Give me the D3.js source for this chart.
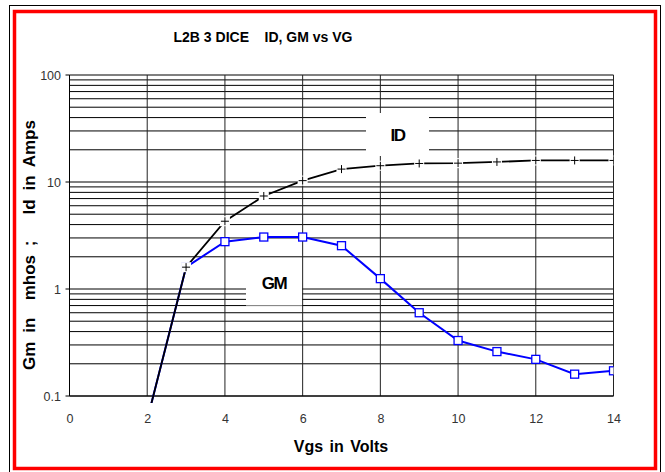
<!DOCTYPE html>
<html>
<head>
<meta charset="utf-8">
<script src="https://cdn.jsdelivr.net/npm/d3@7"></script>
<style>
  body { margin: 0; background: #fff; }
  text { font-family: "Liberation Sans", Arial, sans-serif; }
</style>
</head>
<body>
<svg id="chart" width="665" height="472"></svg>
<script>
// Vgs (volts)
var vgs = [2, 3, 4, 5, 6, 7, 8, 9, 10, 11, 12, 13, 14];
// Id in amps
var idAmps = [0.06, 1.6, 4.3, 7.4, 10.3, 13.2, 14.2, 14.9, 15.0, 15.4, 15.9, 15.9, 15.9];
// Gm in mhos
var gmMhos = [0.06, 1.6, 2.77, 3.06, 3.06, 2.54, 1.25, 0.6, 0.33, 0.26, 0.22, 0.16, 0.172];
var xTicks = [0, 2, 4, 6, 8, 10, 12, 14];
var yTicks = [0.1, 1, 10, 100];
var yTickLabels = ["0.1", "1", "10", "100"];

var svg = d3.select("#chart");

// outer frames
svg.append("rect")
	.attr("x", 9.5).attr("y", 5.5)
	.attr("width", 651).attr("height", 470)
	.attr("fill", "none").attr("stroke", "#000").attr("stroke-width", 1);
svg.append("rect")
	.attr("x", 14.5).attr("y", 11.5)
	.attr("width", 641).attr("height", 457)
	.attr("fill", "none").attr("stroke", "#ff0000").attr("stroke-width", 3.5);

var x = d3.scaleLinear().domain([0, 14]).range([69.5, 613.5]);
var y = d3.scaleLog().domain([0.1, 100]).range([396, 75]);

// horizontal grid at every log step
var hLines = [];
[0.1, 1, 10].forEach(function(d) {
	for (var k = 1; k < 10; k++) hLines.push(d * k);
});
hLines.push(100);

var grid = svg.append("g");
grid.selectAll(".h")
	.data(hLines)
	.enter().append("line")
	.attr("x1", x(0)).attr("x2", x(14))
	.attr("y1", function(d) { return y(d); })
	.attr("y2", function(d) { return y(d); })
	.attr("stroke", "#000").attr("stroke-width", 1);

grid.selectAll(".v")
	.data(xTicks.slice(1))
	.enter().append("line")
	.attr("x1", function(d) { return x(d); })
	.attr("x2", function(d) { return x(d); })
	.attr("y1", y(100)).attr("y2", y(0.1))
	.attr("stroke", "#222").attr("stroke-width", 1);

// axes
svg.append("line")
	.attr("x1", x(0)).attr("x2", x(0))
	.attr("y1", y(100)).attr("y2", y(0.1))
	.attr("stroke", "#000");
svg.append("line")
	.attr("x1", x(0)).attr("x2", x(14))
	.attr("y1", y(0.1)).attr("y2", y(0.1))
	.attr("stroke", "#000");

svg.selectAll(".ytick")
	.data(yTicks)
	.enter().append("line")
	.attr("x1", x(0) - 4).attr("x2", x(0))
	.attr("y1", function(d) { return y(d); })
	.attr("y2", function(d) { return y(d); })
	.attr("stroke", "#000");

svg.selectAll(".ylab")
	.data(yTicks)
	.enter().append("text")
	.attr("x", 61)
	.attr("y", function(d) { return y(d) + 4.5; })
	.attr("text-anchor", "end")
	.style("font-size", "12.5px")
	.style("fill", "#333")
	.text(function(d, i) { return yTickLabels[i]; });

svg.selectAll(".xlab")
	.data(xTicks)
	.enter().append("text")
	.attr("x", function(d) { return x(d) + 0.5; })
	.attr("y", 423)
	.attr("text-anchor", "middle")
	.style("font-size", "12.5px")
	.style("fill", "#333")
	.text(function(d) { return d; });

// label boxes covering the grid
function labelBox(cx, cy, w, h, txt) {
	svg.append("rect")
		.attr("x", cx - w / 2).attr("y", cy - h / 2)
		.attr("width", w).attr("height", h)
		.attr("fill", "#fff");
	svg.append("text")
		.attr("x", cx).attr("y", cy + 6)
		.attr("text-anchor", "middle")
		.style("font-size", "17px")
		.style("font-weight", "bold")
		.style("letter-spacing", "-1.5px")
		.text(txt);
}
labelBox(397.5, 134.5, 63, 43, "ID");
labelBox(274, 282.5, 56, 46, "GM");

// series
var clip = svg.append("clipPath").attr("id", "plotClip")
	.append("rect")
	.attr("x", x(0)).attr("y", y(100))
	.attr("width", x(14) - x(0)).attr("height", y(0.1) - y(100) + 7);

var line = d3.line()
	.x(function(d) { return x(d[0]); })
	.y(function(d) { return y(d[1]); });

var gmData = d3.zip(vgs, gmMhos);
var idData = d3.zip(vgs, idAmps);

var plot = svg.append("g").attr("clip-path", "url(#plotClip)");

plot.append("path")
	.datum(gmData)
	.attr("d", line)
	.attr("fill", "none")
	.attr("stroke", "#0000ff")
	.attr("stroke-width", 2);

plot.selectAll(".gm")
	.data(gmData)
	.enter().append("rect")
	.attr("x", function(d) { return x(d[0]) - 4; })
	.attr("y", function(d) { return y(d[1]) - 4; })
	.attr("width", 8).attr("height", 8)
	.attr("fill", "#fff")
	.attr("stroke", "#0000ff")
	.attr("stroke-width", 1.3);

plot.append("path")
	.datum(idData)
	.attr("d", line)
	.attr("fill", "none")
	.attr("stroke", "#000")
	.attr("stroke-width", 1.8);

var idMarks = plot.selectAll(".id")
	.data(idData)
	.enter().append("g")
	.attr("transform", function(d) { return "translate(" + x(d[0]) + "," + y(d[1]) + ")"; });
idMarks.append("rect")
	.attr("x", -5).attr("y", -5).attr("width", 10).attr("height", 10)
	.attr("fill", "#fff");
idMarks.append("path")
	.attr("d", "M-4,0H4M0,-4V4")
	.attr("stroke", "#000").attr("stroke-width", 1);

// titles
svg.append("text")
	.attr("x", 263).attr("y", 41.5)
	.attr("text-anchor", "middle")
	.style("font-size", "14px")
	.style("font-weight", "bold")
	.style("white-space", "pre")
	.text("L2B 3 DICE    ID, GM vs VG");

svg.append("text")
	.attr("x", 341).attr("y", 452)
	.attr("text-anchor", "middle")
	.style("font-size", "16px")
	.style("font-weight", "bold")
	.style("word-spacing", "2px")
	.text("Vgs in Volts");

svg.append("text")
	.attr("transform", "translate(35,245) rotate(-90)")
	.attr("text-anchor", "middle")
	.style("font-size", "17px")
	.style("font-weight", "bold")
	.style("white-space", "pre")
	.style("word-spacing", "4px")
	.text("Gm in  mhos ;   Id in Amps");
</script>
</body>
</html>
